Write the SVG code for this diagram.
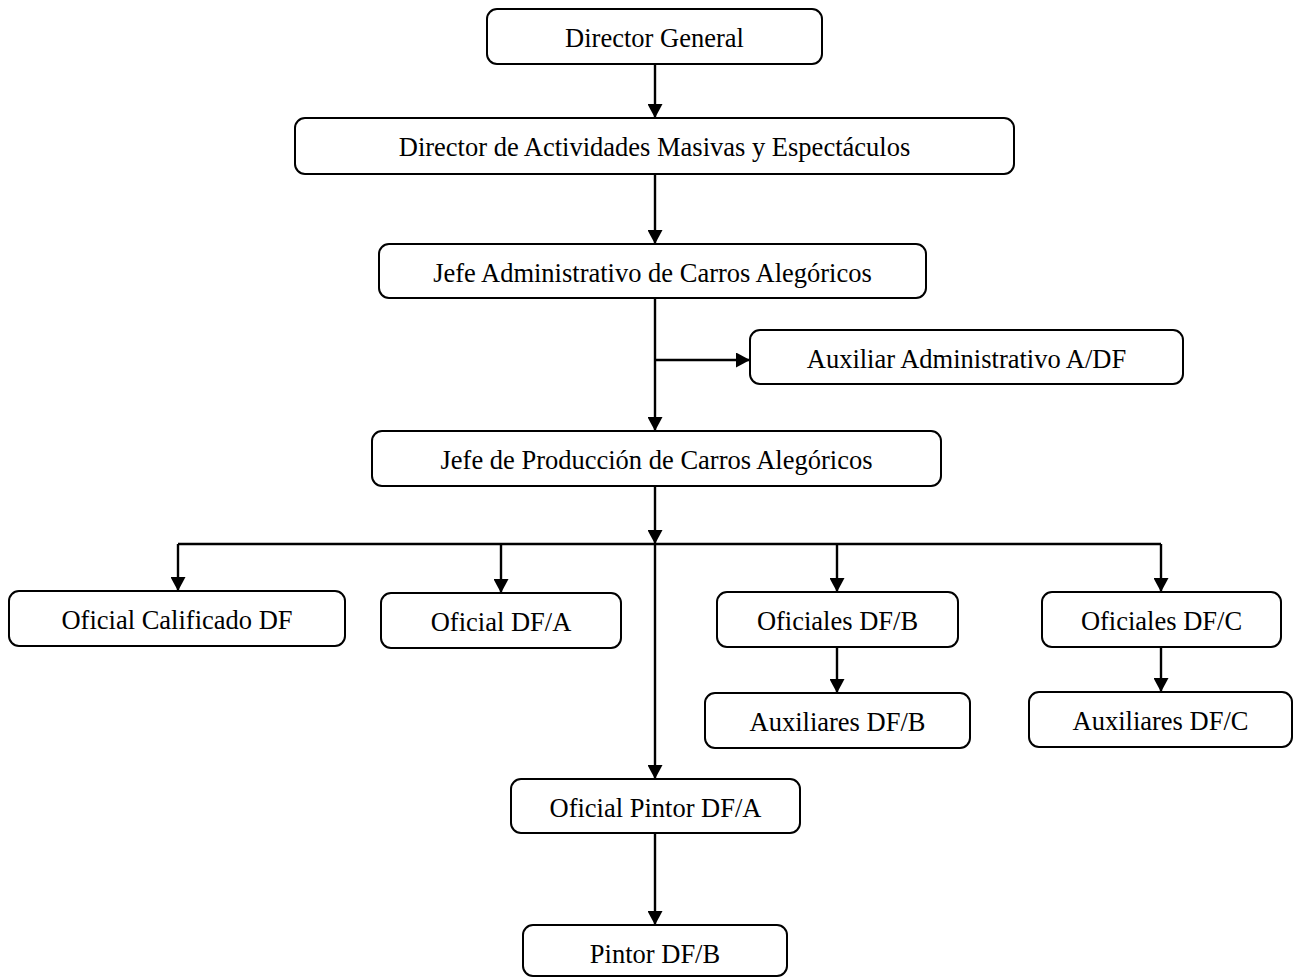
<svg xmlns="http://www.w3.org/2000/svg" width="1293" height="978" viewBox="0 0 1293 978">
  <style>
    .box { fill: #ffffff; stroke: #000000; stroke-width: 2; }
    .lbl { font-family: "Liberation Serif", "Times New Roman", serif; font-size: 26.5px; fill: #000000; text-anchor: middle; }
    .wire { fill: none; stroke: #000000; stroke-width: 2.4; }
  </style>
  <defs>
    <marker id="arrow" markerUnits="userSpaceOnUse" markerWidth="15" markerHeight="15" viewBox="0 0 14 15" refX="14" refY="7.5" orient="auto">
      <path d="M0,0 L14,7.5 L0,15 Z" fill="#000000"/>
    </marker>
  </defs>
  <rect width="1293" height="978" fill="#ffffff"/>

  <!-- connectors -->
  <g id="connectors">
    <path class="wire" d="M655,64 V118" marker-end="url(#arrow)"/>
    <path class="wire" d="M655,174 V244" marker-end="url(#arrow)"/>
    <path class="wire" d="M655,298 V431" marker-end="url(#arrow)"/>
    <path class="wire" d="M655,360 H750" marker-end="url(#arrow)"/>
    <path class="wire" d="M655,486 V544" marker-end="url(#arrow)"/>
    <path class="wire" d="M178,544 H1161"/>
    <path class="wire" d="M178,544 V591" marker-end="url(#arrow)"/>
    <path class="wire" d="M501,544 V593" marker-end="url(#arrow)"/>
    <path class="wire" d="M837,544 V592" marker-end="url(#arrow)"/>
    <path class="wire" d="M1161,544 V592" marker-end="url(#arrow)"/>
    <path class="wire" d="M655,544 V779" marker-end="url(#arrow)"/>
    <path class="wire" d="M837,647 V693" marker-end="url(#arrow)"/>
    <path class="wire" d="M1161,647 V692" marker-end="url(#arrow)"/>
    <path class="wire" d="M655,833 V925" marker-end="url(#arrow)"/>
  </g>

  <!-- nodes -->
  <g id="director-general">
    <rect class="box" x="487" y="9" width="335" height="55" rx="10"/>
    <text class="lbl" x="654.5" y="46.5">Director General</text>
  </g>
  <g id="director-actividades">
    <rect class="box" x="295" y="118" width="719" height="56" rx="10"/>
    <text class="lbl" x="654.5" y="155.5">Director de Actividades Masivas y Espectáculos</text>
  </g>
  <g id="jefe-administrativo">
    <rect class="box" x="379" y="244" width="547" height="54" rx="10"/>
    <text class="lbl" x="652.5" y="281.5">Jefe Administrativo de Carros Alegóricos</text>
  </g>
  <g id="auxiliar-administrativo">
    <rect class="box" x="750" y="330" width="433" height="54" rx="10"/>
    <text class="lbl" x="966.5" y="367.5">Auxiliar Administrativo A/DF</text>
  </g>
  <g id="jefe-produccion">
    <rect class="box" x="372" y="431" width="569" height="55" rx="10"/>
    <text class="lbl" x="656.5" y="468.5">Jefe de Producción de Carros Alegóricos</text>
  </g>
  <g id="oficial-calificado">
    <rect class="box" x="9" y="591" width="336" height="55" rx="10"/>
    <text class="lbl" x="177" y="628.5">Oficial Calificado DF</text>
  </g>
  <g id="oficial-dfa">
    <rect class="box" x="381" y="593" width="240" height="55" rx="10"/>
    <text class="lbl" x="501" y="630.5">Oficial DF/A</text>
  </g>
  <g id="oficiales-dfb">
    <rect class="box" x="717" y="592" width="241" height="55" rx="10"/>
    <text class="lbl" x="837.5" y="629.5">Oficiales DF/B</text>
  </g>
  <g id="oficiales-dfc">
    <rect class="box" x="1042" y="592" width="239" height="55" rx="10"/>
    <text class="lbl" x="1161.5" y="629.5">Oficiales DF/C</text>
  </g>
  <g id="auxiliares-dfb">
    <rect class="box" x="705" y="693" width="265" height="55" rx="10"/>
    <text class="lbl" x="837.5" y="730.5">Auxiliares DF/B</text>
  </g>
  <g id="auxiliares-dfc">
    <rect class="box" x="1029" y="692" width="263" height="55" rx="10"/>
    <text class="lbl" x="1160.5" y="729.5">Auxiliares DF/C</text>
  </g>
  <g id="oficial-pintor">
    <rect class="box" x="511" y="779" width="289" height="54" rx="10"/>
    <text class="lbl" x="655.5" y="816.5">Oficial Pintor DF/A</text>
  </g>
  <g id="pintor-dfb">
    <rect class="box" x="523" y="925" width="264" height="51" rx="10"/>
    <text class="lbl" x="655" y="962.5">Pintor DF/B</text>
  </g>
</svg>
